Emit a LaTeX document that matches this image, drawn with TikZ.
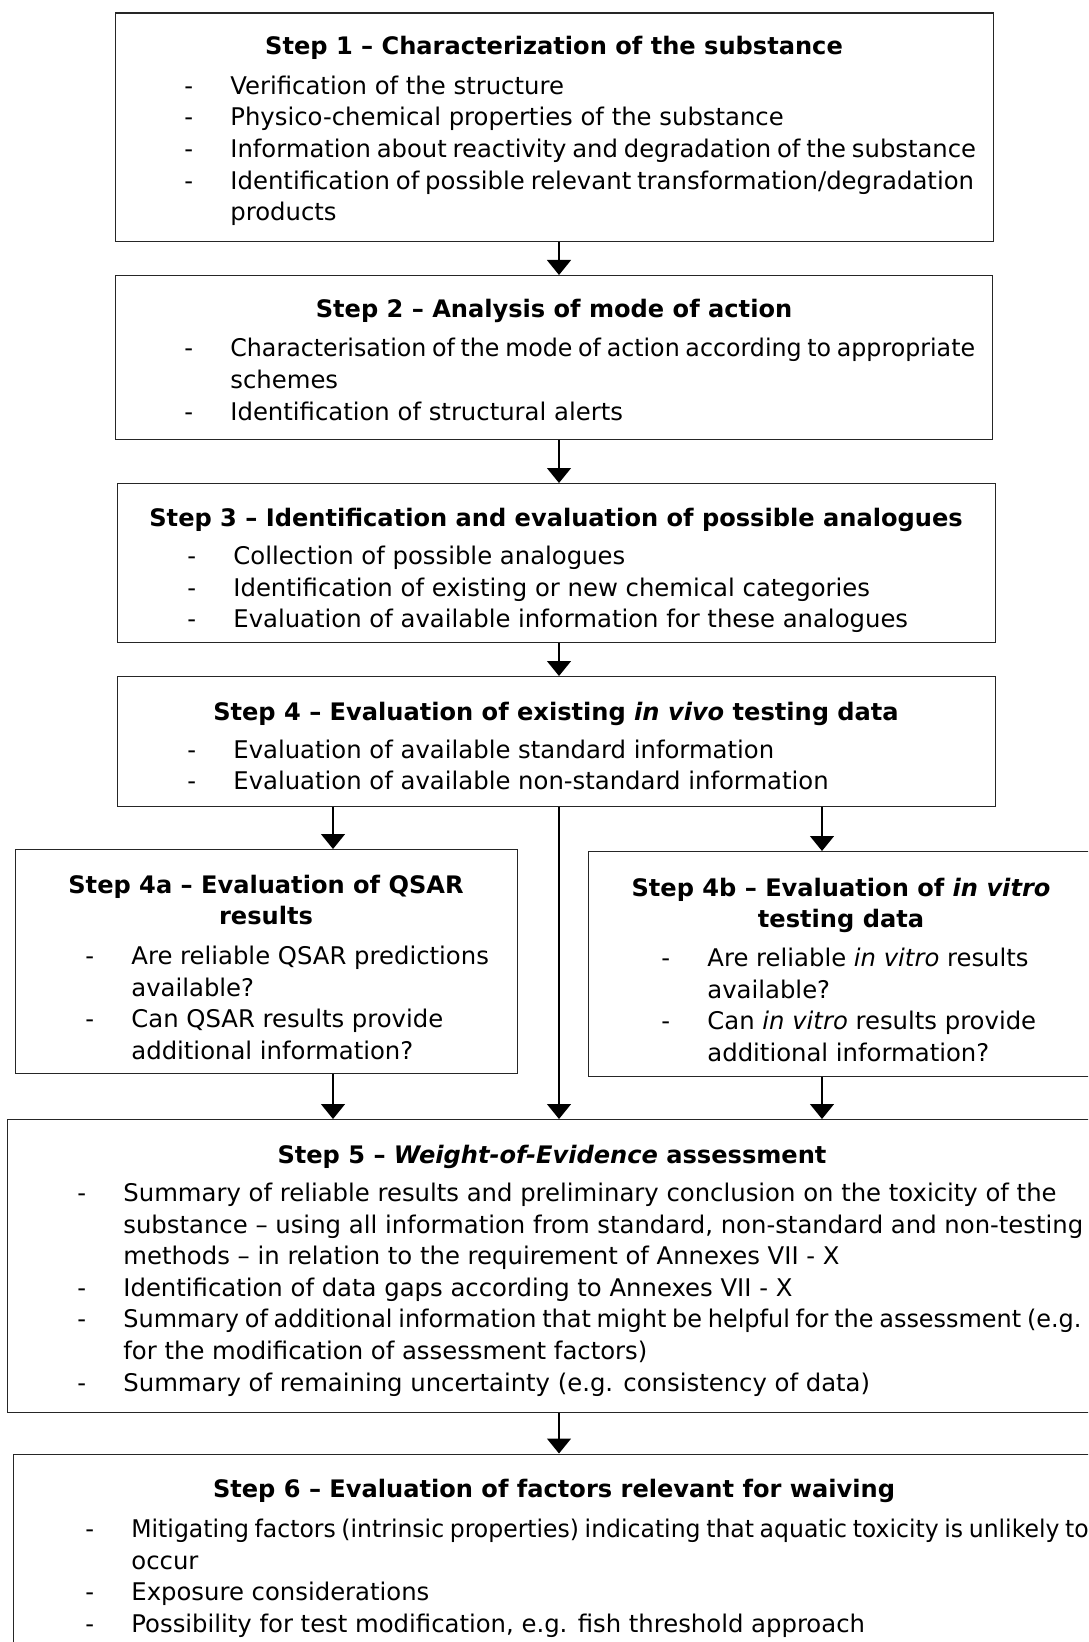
\documentclass[tikz,border=0pt]{standalone}
\usepackage{fontspec}
\usepackage{graphicx}
\setmainfont{DejaVu Sans}
\usetikzlibrary{arrows.meta}

% bullet list: dash column + text column, first row sits on the node's base
\newcommand{\dashlist}[1]{\begin{tabular}[t]{@{}p{23pt}@{}l@{}}#1\end{tabular}}
\newcommand{\ctitle}[1]{\begin{tabular}[t]{@{}c@{}}#1\end{tabular}}
% a line with narrower word spaces, scaled horizontally to a given width
\newcommand{\fitline}[2]{\resizebox{#1}{\height}{\spaceskip=0.24em\relax #2}}

\tikzset{
  stepbox/.style={draw=black!85, line width=0.65pt, inner sep=0pt, anchor=north west},
  txt/.style={inner sep=0pt, font=\fontsize{12.16pt}{15.8pt}\selectfont, anchor=base west},
  ttl/.style={inner sep=0pt, font=\fontsize{12.05pt}{15.3pt}\selectfont\bfseries, anchor=base},
  arr/.style={draw=black, line width=0.65pt, -{Triangle[width=12pt,length=7.5pt]}}
}

\begin{document}
\begin{tikzpicture}[x=0.5pt,y=-0.5pt]
\clip (0,0) rectangle (1088,1642);
\fill[white] (0,0) rectangle (1088,1642);

% ---- boxes
\node[stepbox, minimum width=439pt,   minimum height=114.25pt] (s1)  at (115,12.5) {};
\node[stepbox, minimum width=438.5pt, minimum height=81.75pt]  (s2)  at (115,275) {};
\node[stepbox, minimum width=439pt,   minimum height=79.5pt]   (s3)  at (117,483) {};
\node[stepbox, minimum width=439pt,   minimum height=65pt]     (s4)  at (117,676) {};
\node[stepbox, minimum width=251pt,   minimum height=112pt]    (s4a) at (15,849) {};
\node[stepbox, minimum width=256pt,   minimum height=112.25pt] (s4b) at (588,851) {};
\node[stepbox, minimum width=546.5pt, minimum height=146.35pt] (s5)  at (7,1119) {};
\node[stepbox, minimum width=543.5pt, minimum height=103.25pt] (s6)  at (13,1453.5) {};

% ---- step 1
\node[ttl] (t1) at (554,54.5) {Step 1 – Characterization of the substance};
\node[txt] (l1) at (184,94.4) {\dashlist{
 - & Verification of the structure\\
 - & Physico-chemical properties of the substance\\
 - & \fitline{372.8pt}{Information about reactivity and degradation of the substance}\\
 - & \fitline{371.8pt}{Identification of possible relevant transformation/degradation}\\
   & products}};

% ---- step 2
\node[ttl] (t2) at (554,317.4) {Step 2 – Analysis of mode of action};
\node[txt] (l2) at (184,357) {\dashlist{
 - & \fitline{372.3pt}{Characterisation of the mode of action according to appropriate}\\
   & schemes\\
 - & Identification of structural alerts}};

% ---- step 3
\node[ttl] (t3) at (556,526) {Step 3 – Identification and evaluation of possible analogues};
\node[txt] (l3) at (187,564.5) {\dashlist{
 - & Collection of possible analogues\\
 - & Identification of existing or new chemical categories\\
 - & Evaluation of available information for these analogues}};

% ---- step 4
\node[ttl] (t4) at (556,720.5) {Step 4 – Evaluation of existing \textit{in vivo} testing data};
\node[txt] (l4) at (187,758) {\dashlist{
 - & Evaluation of available standard information\\
 - & Evaluation of available non-standard information}};

% ---- step 4a
\node[ttl] (t4a) at (266,893.5) {\ctitle{Step 4a – Evaluation of QSAR\\results}};
\node[txt] (l4a) at (85,964.5) {\dashlist{
 - & Are reliable QSAR predictions\\
   & available?\\
 - & Can QSAR results provide\\
   & additional information?}};

% ---- step 4b
\node[ttl] (t4b) at (841,896.5) {\ctitle{Step 4b – Evaluation of \textit{in vitro}\\testing data}};
\node[txt] (l4b) at (661,966.5) {\dashlist{
 - & Are reliable \textit{in vitro} results\\
   & available?\\
 - & Can \textit{in vitro} results provide\\
   & additional information?}};

% ---- step 5
\node[ttl] (t5) at (552,1163.5) {Step 5 – \textit{Weight-of-Evidence} assessment};
\node[txt] (l5) at (77,1201.5) {\dashlist{
 - & Summary of reliable results and preliminary conclusion on the toxicity of the\\
   & substance – using all information from standard, non-standard and non-testing\\
   & methods – in relation to the requirement of Annexes VII - X\\
 - & Identification of data gaps according to Annexes VII - X\\
 - & \fitline{479pt}{Summary of additional information that might be helpful for the assessment (e.g.}\\
   & for the modification of assessment factors)\\
 - & Summary of remaining uncertainty (e.g. consistency of data)}};

% ---- step 6
\node[ttl] (t6) at (554,1497.5) {Step 6 – Evaluation of factors relevant for waiving};
\node[txt] (l6) at (85,1537.5) {\dashlist{
 - & \fitline{478.6pt}{Mitigating factors (intrinsic properties) indicating that aquatic toxicity is unlikely to}\\
   & occur\\
 - & Exposure considerations\\
 - & Possibility for test modification, e.g. fish threshold approach}};

% ---- connector columns
\coordinate (cM) at (559,0);
\coordinate (cL) at (333,0);
\coordinate (cR) at (822,0);

\draw[arr] (cM |- s1.south) -- (cM |- s2.north);
\draw[arr] (cM |- s2.south) -- (cM |- s3.north);
\draw[arr] (cM |- s3.south) -- (cM |- s4.north);
\draw[arr] (cL |- s4.south) -- (cL |- s4a.north);
\draw[arr] (cM |- s4.south) -- (cM |- s5.north);
\draw[arr] (cR |- s4.south) -- (cR |- s4b.north);
\draw[arr] (cL |- s4a.south) -- (cL |- s5.north);
\draw[arr] (cR |- s4b.south) -- (cR |- s5.north);
\draw[arr] (cM |- s5.south) -- (cM |- s6.north);
\end{tikzpicture}
\end{document}
